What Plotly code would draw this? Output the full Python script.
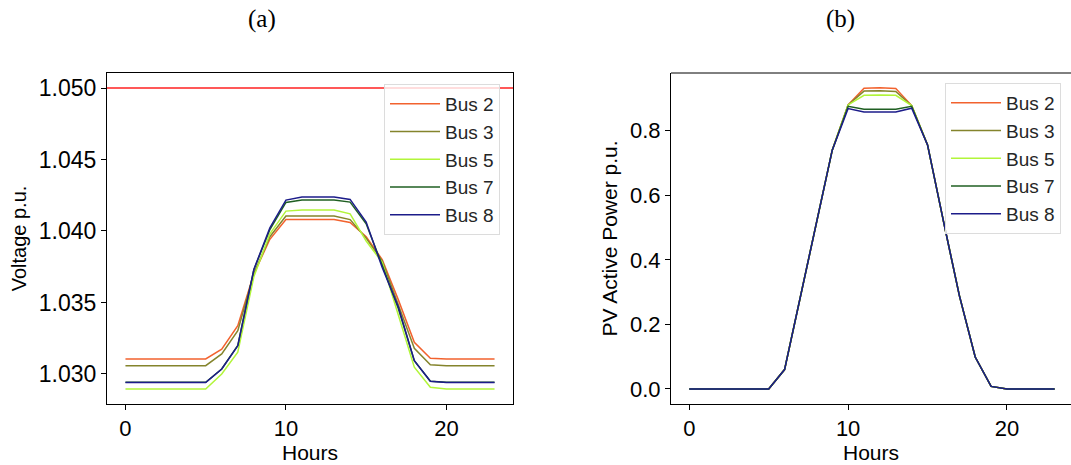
import plotly.graph_objects as go

hours = list(range(24))
buses = ["Bus 2", "Bus 3", "Bus 5", "Bus 7", "Bus 8"]
bus_colors = ["#f2622e", "#84842c", "#b2f53a", "#1f5f22", "#1c1c8a"]

# Bus voltage profiles (p.u.)
v_bus2 = [1.03105, 1.03105, 1.03105, 1.03105, 1.03105, 1.03105, 1.03174, 1.03337, 1.03700, 1.03942,
          1.04081, 1.04081, 1.04081, 1.04081, 1.04060, 1.03960, 1.03800, 1.03520, 1.03221, 1.03110,
          1.03105, 1.03105, 1.03105, 1.03105]
v_bus3 = [1.03058, 1.03058, 1.03058, 1.03058, 1.03058, 1.03058, 1.03140, 1.03302, 1.03700, 1.03960,
          1.04104, 1.04104, 1.04104, 1.04104, 1.04080, 1.03950, 1.03790, 1.03490, 1.03179, 1.03065,
          1.03058, 1.03058, 1.03058, 1.03058]
v_bus5 = [1.02895, 1.02895, 1.02895, 1.02895, 1.02895, 1.02895, 1.03000, 1.03153, 1.03680, 1.03980,
          1.04139, 1.04146, 1.04146, 1.04146, 1.04120, 1.03930, 1.03780, 1.03420, 1.03047, 1.02907,
          1.02895, 1.02895, 1.02895, 1.02895]
v_bus7 = [1.02942, 1.02942, 1.02942, 1.02942, 1.02942, 1.02942, 1.03035, 1.03200, 1.03730, 1.04010,
          1.04200, 1.04216, 1.04216, 1.04216, 1.04202, 1.04050, 1.03760, 1.03460, 1.03093, 1.02949,
          1.02942, 1.02942, 1.02942, 1.02942]
v_bus8 = [1.02940, 1.02940, 1.02940, 1.02940, 1.02940, 1.02940, 1.03035, 1.03197, 1.03730, 1.04023,
          1.04216, 1.04237, 1.04237, 1.04237, 1.04221, 1.04063, 1.03744, 1.03470, 1.03093, 1.02949,
          1.02940, 1.02940, 1.02940, 1.02940]
voltages = [v_bus2, v_bus3, v_bus5, v_bus7, v_bus8]
VOLTAGE_LIMIT = 1.050

# PV active power injection (p.u.)
p_bus2 = [0, 0, 0, 0, 0, 0, 0.060, 0.290, 0.517, 0.740, 0.880, 0.932, 0.933, 0.931, 0.878, 0.756,
          0.520, 0.290, 0.099, 0.008, 0, 0, 0, 0]
p_bus3 = [0, 0, 0, 0, 0, 0, 0.060, 0.290, 0.517, 0.740, 0.880, 0.923, 0.924, 0.922, 0.878, 0.756,
          0.520, 0.290, 0.099, 0.008, 0, 0, 0, 0]
p_bus5 = [0, 0, 0, 0, 0, 0, 0.060, 0.290, 0.517, 0.740, 0.880, 0.910, 0.911, 0.910, 0.878, 0.756,
          0.520, 0.290, 0.099, 0.008, 0, 0, 0, 0]
p_bus7 = [0, 0, 0, 0, 0, 0, 0.060, 0.290, 0.517, 0.740, 0.876, 0.867, 0.867, 0.867, 0.876, 0.756,
          0.520, 0.290, 0.099, 0.008, 0, 0, 0, 0]
p_bus8 = [0, 0, 0, 0, 0, 0, 0.060, 0.290, 0.517, 0.740, 0.869, 0.858, 0.858, 0.858, 0.870, 0.756,
          0.520, 0.290, 0.099, 0.008, 0, 0, 0, 0]
powers = [p_bus2, p_bus3, p_bus5, p_bus7, p_bus8]

volt_ticks = [1.030, 1.035, 1.040, 1.045, 1.050]
power_ticks = [0.0, 0.2, 0.4, 0.6, 0.8]
hour_ticks = [0, 10, 20]

W, H = 1071, 465
SANS = "Liberation Sans, Arial, sans-serif"
SERIF = "Liberation Serif, Times New Roman, serif"

fig = go.Figure()

for name, color, v in zip(buses, bus_colors, voltages):
    fig.add_trace(go.Scatter(x=hours, y=v, mode="lines", name=name,
                             line=dict(color=color, width=1.5),
                             xaxis="x", yaxis="y", legend="legend"))

for name, color, p in zip(buses, bus_colors, powers):
    fig.add_trace(go.Scatter(x=hours, y=p, mode="lines", name=name,
                             line=dict(color=color, width=1.5),
                             xaxis="x2", yaxis="y2", legend="legend2"))

# upper voltage limit
fig.add_shape(type="line", xref="x domain", yref="y", x0=0, x1=1,
              y0=VOLTAGE_LIMIT, y1=VOLTAGE_LIMIT, line=dict(color="#ff2020", width=1.3))

# top border of the right panel
fig.add_shape(type="line", xref="x2 domain", yref="y2 domain", x0=0, x1=1, y0=1, y1=1,
              line=dict(color="black", width=1))

left_dom = [107 / W, 513 / W]
right_dom = [671 / W, 1.0]
y_dom = [1 - 404 / H, 1 - 73 / H]


def axis_style(tick_size):
    return dict(showgrid=False, zeroline=False, showline=True, linecolor="black",
                linewidth=1, ticks="outside", ticklen=5, tickcolor="black",
                tickfont=dict(family=SANS, size=tick_size, color="black"))


legend_style = dict(xanchor="left", yanchor="top", itemwidth=50,
                    bgcolor="rgba(255,255,255,0.8)", bordercolor="#dcdcdc", borderwidth=1,
                    font=dict(family=SANS, size=19, color="#262626"))

fig.update_layout(
    width=W, height=H,
    margin=dict(l=0, r=0, t=0, b=0),
    paper_bgcolor="white", plot_bgcolor="white",
    xaxis=dict(domain=left_dom, range=[-1.15, 24.15], tickvals=hour_ticks, mirror=True,
               anchor="y",
               title=dict(text="Hours", font=dict(family=SANS, size=21, color="black"), standoff=0),
               **axis_style(22)),
    yaxis=dict(domain=y_dom, range=[1.0279, 1.05105], tickvals=volt_ticks, tickformat=".3f",
               mirror=True, anchor="x",
               title=dict(text="Voltage p.u.", font=dict(family=SANS, size=20, color="black"), standoff=6),
               **axis_style(23)),
    xaxis2=dict(domain=right_dom, range=[-1.15, 24.03], tickvals=hour_ticks, anchor="y2",
                title=dict(text="Hours", font=dict(family=SANS, size=21, color="black"), standoff=0),
                **axis_style(22)),
    yaxis2=dict(domain=y_dom, range=[-0.0466, 0.979], tickvals=power_ticks, tickformat=".1f",
                anchor="x2",
                title=dict(text="PV Active Power p.u.", font=dict(family=SANS, size=21, color="black"), standoff=6),
                **axis_style(22)),
    legend=dict(x=384 / W, y=1 - 84 / H, **legend_style),
    legend2=dict(x=945 / W, y=1 - 83 / H, **legend_style),
    annotations=[
        dict(text="(a)", x=262 / W, y=1 - 19 / H, xref="paper", yref="paper", showarrow=False,
             xanchor="center", yanchor="middle", font=dict(family=SERIF, size=25, color="black")),
        dict(text="(b)", x=840 / W, y=1 - 19 / H, xref="paper", yref="paper", showarrow=False,
             xanchor="center", yanchor="middle", font=dict(family=SERIF, size=25, color="black")),
    ],
)

fig.write_html("out.html")
